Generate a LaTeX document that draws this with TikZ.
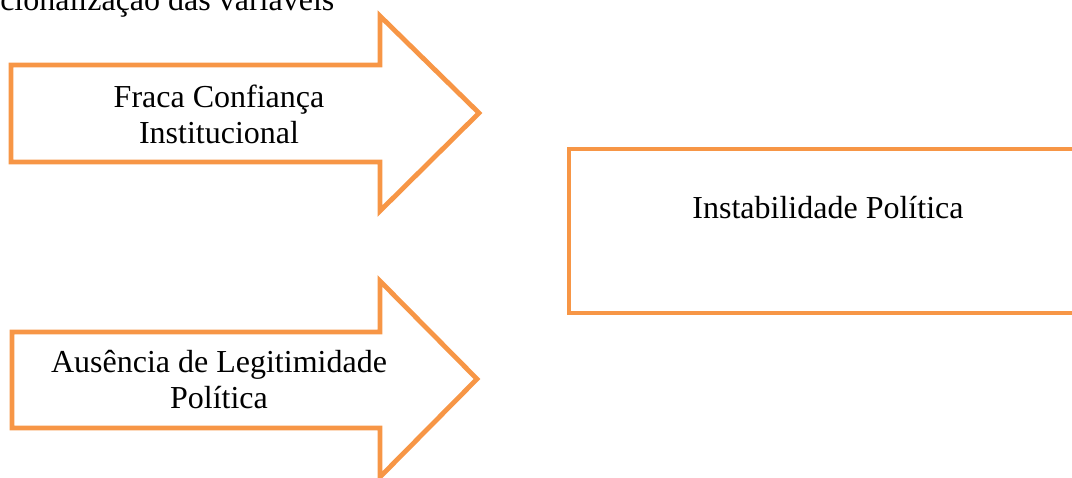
\documentclass[tikz,border=0pt]{standalone}
\usepackage{fontspec}
\setmainfont{Liberation Serif}
\usepackage{tikz}

\definecolor{laranja}{HTML}{F79646}

\begin{document}
\begin{tikzpicture}[x=0.75pt,y=-0.75pt,
  contorno/.style={draw=laranja, line width=3.6pt, miter limit=10},
  rotulo/.style={font=\fontsize{24}{27}\selectfont, align=center, inner sep=0pt, anchor=base}]
\clip (0,0) rectangle (1072,478);

% titulo cortado no topo
\node[font=\fontsize{24}{27}\selectfont, inner sep=0pt, anchor=base west] (titulo) at (0,11) {cionalização das variáveis};

% seta de cima
\draw[contorno] (11,65) -- (380,65) -- (380,16) -- (479,113) -- (380,211) -- (380,162) -- (11,162) -- cycle;
\node[rotulo] (confianca) at (219,143) {Fraca Confiança\\Institucional};

% seta de baixo
\draw[contorno] (12,332) -- (380,332) -- (380,281) -- (477,379) -- (380,477) -- (380,428) -- (12,428) -- cycle;
\node[rotulo] (legitimidade) at (219,408) {Ausência de Legitimidade\\Política};

% caixa da direita
\draw[contorno] (1080,149) -- (569,149) -- (569,313) -- (1080,313);
\node[rotulo] (instabilidade) at (828,219) {Instabilidade Política};
\end{tikzpicture}
\end{document}
